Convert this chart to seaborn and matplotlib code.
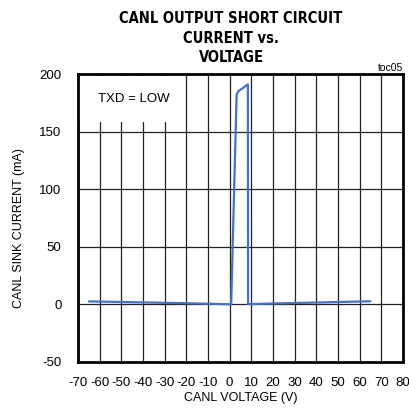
import matplotlib
matplotlib.use("Agg")
import matplotlib.pyplot as plt
import seaborn as sns
import pandas as pd

# curve
voltage = [-65, -40, -20, 0, 0.7, 3.2, 4.0, 8.4, 8.5, 20, 40, 65]
current = [2.6, 1.7, 1.0, 0.1, 0.5, 182, 185, 191, 0.2, 0.8, 1.6, 2.7]

x_ticks = list(range(-70, 81, 10))
y_ticks = [-50, 0, 50, 100, 150, 200]

df = pd.DataFrame({"V": voltage, "I": current})

sns.set_style("white")
plt.rcParams["font.family"] = ["Liberation Sans", "DejaVu Sans"]
plt.rcParams["text.color"] = "black"
plt.rcParams["axes.labelcolor"] = "black"
plt.rcParams["xtick.color"] = "black"
plt.rcParams["ytick.color"] = "black"

fig = plt.figure(figsize=(4.09, 4.09), dpi=100)
ax = fig.add_axes([0.191, 0.115, 0.794, 0.704])

sns.lineplot(data=df, x="V", y="I", sort=False, estimator=None,
             color="#4472C4", linewidth=1.6, ax=ax, zorder=3)

ax.set_xlim(-70, 80)
ax.set_ylim(-50, 200)
ax.set_xticks(x_ticks)
ax.set_yticks(y_ticks)
ax.set_xticklabels([str(t) for t in x_ticks], fontsize=9.5)
ax.set_yticklabels([str(t) for t in y_ticks], fontsize=9.5)
ax.tick_params(axis="x", length=0, pad=11)
ax.tick_params(axis="y", length=0, pad=12)
ax.grid(True, color="#222222", linewidth=0.9)
for s in ax.spines.values():
    s.set_color("black")
    s.set_linewidth(2)

ax.set_xlabel("CANL VOLTAGE (V)", fontsize=9, labelpad=2)
ax.set_ylabel("CANL SINK CURRENT (mA)", fontsize=9)
ax.yaxis.set_label_coords(-0.163, 0.465)

# white label box covers the grid like in the datasheet
ax.add_patch(plt.Rectangle((-69.5, 158), 48.3, 40, facecolor="white",
                           edgecolor="none", zorder=2.5))
ax.text(-61, 178, "TXD = LOW", fontsize=9.5, va="center", ha="left", zorder=4)

fig.text(0.565, 0.907, "CANL OUTPUT SHORT CIRCUIT\nCURRENT vs.\nVOLTAGE",
         ha="center", va="center", fontweight="bold", fontsize=10.5,
         linespacing=1.35, family="DejaVu Sans", fontstretch="condensed")
fig.text(0.985, 0.822, "toc05", ha="right", va="bottom", fontsize=7.5)

fig.savefig("out.png", dpi=100)
